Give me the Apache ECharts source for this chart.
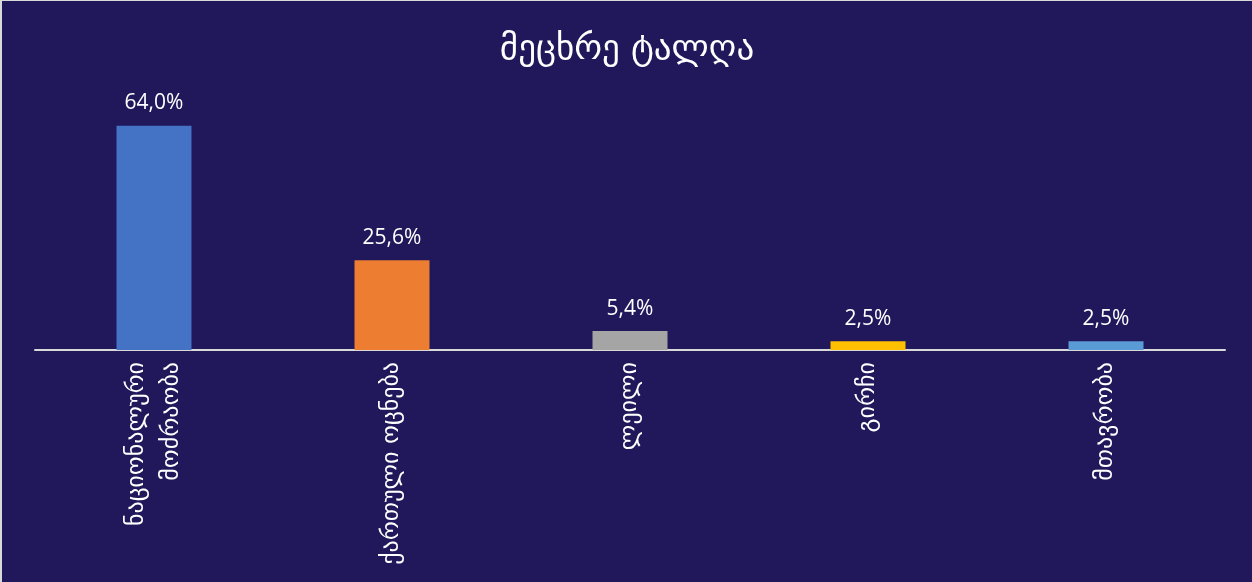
<!DOCTYPE html>
<html><head><meta charset="utf-8">
<script src="https://cdn.jsdelivr.net/npm/echarts@6/dist/echarts.min.js"></script>
<style>
html,body{margin:0;padding:0;background:#fff;}
#c{position:absolute;left:0;top:0;width:1250px;height:581px;border-left:2px solid #d9d9d9;border-top:1px solid #d9d9d9;background:#21175b;}
</style></head>
<body><div id="c"></div>
<script>
const title = "მეცხრე ტალღა";
const categories = ["ნაციონალური\nმოძრაობა", "ქართული ოცნება", "ლეილი", "გირჩი", "მთავრობა"];
const values = [64.0, 25.6, 5.4, 2.5, 2.5];
const colors = ["#4472C4", "#ED7D31", "#A5A5A5", "#FFC000", "#5B9BD5"];

const geoFont = "'DejaVu Sans', sans-serif";
const numFont = "'Open Sans', sans-serif";
const chart = echarts.init(document.getElementById('c'), null, {renderer: 'canvas'});
chart.setOption({
  backgroundColor: '#21175b',
  animation: false,
  title: {
    text: title, left: 'center', top: 26,
    textStyle: {color: '#ffffff', fontSize: 35, fontWeight: 'normal', fontFamily: geoFont}
  },
  grid: {left: 33, right: 27, top: 68.75, bottom: 232, containLabel: false},
  xAxis: {
    type: 'category', data: categories,
    axisLine: {lineStyle: {color: '#d9d9d9', width: 2}},
    axisTick: {show: false},
    axisLabel: {rotate: 90, color: '#ffffff', fontSize: 24, fontFamily: geoFont, margin: 12, lineHeight: 35, interval: 0}
  },
  yAxis: {
    type: 'value', min: 0, max: 80, show: false, splitLine: {show: false}
  },
  series: [{
    type: 'bar', barWidth: 75,
    data: values.map((v, i) => ({value: v, itemStyle: {color: colors[i]}})),
    label: {
      show: true, position: 'top', distance: 12, color: '#ffffff', fontSize: 21, fontFamily: numFont,
      formatter: p => p.value.toFixed(1).replace('.', ',') + '%'
    }
  }]
});
</script></body></html>
